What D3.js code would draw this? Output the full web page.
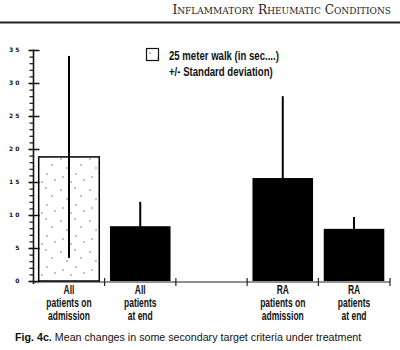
<!DOCTYPE html>
<html>
<head>
<meta charset="utf-8">
<script src="https://cdn.jsdelivr.net/npm/d3@7"></script>
<style>
  html, body { margin: 0; padding: 0; background: #fff; }
  svg { display: block; }
</style>
</head>
<body>
<svg id="chart" width="400" height="350"></svg>
<script>
// ---- data ----
const categories = ["allAdm", "allEnd", "gap", "raAdm", "raEnd"];
const categoryLabels = [
  ["All", "patients on", "admission"],
  ["All", "patients", "at end"],
  [],
  ["RA", "patients on", "admission"],
  ["RA", "patients", "at end"]
];
const means = [18.8, 8.3, null, 15.6, 7.9];
const sds   = [15.3, 3.7, null, 12.4, 1.8];
const fills = ["stipple", "black", null, "black", "black"];
const yTicks = [0, 5, 10, 15, 20, 25, 30, 35];
const yTickLabels = ["0", "5", "1 0", "1 5", "2 0", "2 5", "3 0", "3 5"];
const legendLines = ["25 meter walk (in sec....)", "+/- Standard deviation)"];
const headerText = "Inflammatory Rheumatic Conditions";
const captionBold = "Fig. 4c.";
const captionText = " Mean changes in some secondary target criteria under treatment";

const svg = d3.select("#chart");
const sans = "'Liberation Sans', Arial, sans-serif";

// stipple pattern
const defs = svg.append("defs");
const pat = defs.append("pattern").attr("id", "stipple").attr("patternUnits", "userSpaceOnUse")
  .attr("width", 29).attr("height", 31);
[[3,4],[17,2],[9,13],[23,10],[5,22],[18,19],[13,27],[26,25]].forEach(p =>
  pat.append("circle").attr("cx", p[0]).attr("cy", p[1]).attr("r", 0.7).attr("fill", "#555"));

// header
svg.append("text").attr("x", 391).attr("y", 13.5).attr("text-anchor", "end")
  .attr("font-family", "'DejaVu Serif', 'Liberation Serif', serif")
  .attr("font-size", 12.2).style("font-variant", "small-caps").attr("fill", "#222")
  .text(headerText);
svg.append("line").attr("x1", 0).attr("x2", 400).attr("y1", 22.5).attr("y2", 22.5)
  .attr("stroke", "#222").attr("stroke-width", 2);

// scales
const x = d3.scaleBand().domain(categories).range([33, 390]).paddingInner(0.15).paddingOuter(0.08);
const y = d3.scaleLinear().domain([0, 35]).range([281, 50]);

// y axis minor ticks
const yMinor = svg.append("g").attr("transform", "translate(33.5,0)")
  .call(d3.axisLeft(y).tickValues(d3.range(0, 36, 1)).tickSize(4).tickFormat(""));
yMinor.select(".domain").remove();
yMinor.selectAll("line").attr("stroke", "#111").attr("stroke-width", 1.2);

// y axis major
const yAxis = svg.append("g").attr("transform", "translate(33.5,0)")
  .call(d3.axisLeft(y).tickValues(yTicks).tickSize(0).tickFormat((d, i) => yTickLabels[i]));
yAxis.select(".domain").attr("stroke", "#111").attr("stroke-width", 1.6).attr("d", "M0,284V49.5");
yAxis.selectAll(".tick line").attr("x1", -5).attr("x2", 6).attr("stroke", "#111").attr("stroke-width", 1.5);
yAxis.selectAll(".tick text").attr("x", -14).attr("font-family", "'DejaVu Sans', sans-serif")
  .attr("font-weight", "bold").attr("font-size", 6).attr("fill", "#111");

// x axis
const xAxis = svg.append("g").attr("transform", "translate(0,282)");
xAxis.append("line").attr("x1", x.range()[0]).attr("x2", x.range()[1]).attr("stroke", "#222").attr("stroke-width", 1.2);
const boundaries = categories.map(c => x(c) - x.step() * x.paddingInner() / 2).slice(1).concat([x.range()[1]]);
xAxis.selectAll("line.tk").data(boundaries).join("line").attr("class", "tk")
  .attr("x1", d => d).attr("x2", d => d).attr("y1", -4).attr("y2", 4)
  .attr("stroke", "#222").attr("stroke-width", 1.2);

// bars
const idx = d3.range(categories.length).filter(i => means[i] != null);
svg.append("g").selectAll("rect").data(idx).join("rect")
  .attr("x", i => x(categories[i])).attr("width", x.bandwidth())
  .attr("y", i => y(means[i])).attr("height", i => y(0) - y(means[i]))
  .attr("fill", i => fills[i] === "stipple" ? "url(#stipple)" : "#000")
  .attr("stroke", "#000").attr("stroke-width", i => fills[i] === "stipple" ? 1.5 : 0);

// error bars
svg.append("g").selectAll("line").data(idx).join("line")
  .attr("x1", i => x(categories[i]) + x.bandwidth() / 2).attr("x2", i => x(categories[i]) + x.bandwidth() / 2)
  .attr("y1", i => y(means[i] - sds[i])).attr("y2", i => y(means[i] + sds[i]))
  .attr("stroke", "#000").attr("stroke-width", 2);

// category labels (condensed)
const lab = svg.append("g").attr("font-family", sans).attr("font-weight", "bold")
  .attr("font-size", 12.5).attr("fill", "#111").attr("text-anchor", "middle");
categoryLabels.forEach((lines, i) => {
  lines.forEach((t, j) => {
    lab.append("text")
      .attr("transform", `translate(${x(categories[i]) + x.bandwidth() / 2},${294 + j * 13}) scale(0.68,1)`)
      .text(t);
  });
});

// legend
svg.append("rect").attr("x", 146.5).attr("y", 48.5).attr("width", 12).attr("height", 12)
  .attr("fill", "url(#stipple)").attr("stroke", "#111").attr("stroke-width", 1.2);
const leg = svg.append("g").attr("font-family", sans).attr("font-weight", "bold")
  .attr("font-size", 12).attr("fill", "#111");
legendLines.forEach((t, j) => leg.append("text")
  .attr("transform", `translate(169,${60 + j * 16}) scale(0.8,1)`).text(t));

// caption
const cap = svg.append("text").attr("transform", "translate(15,341) scale(0.93,1)")
  .attr("font-family", sans).attr("font-size", 11.5).attr("fill", "#111");
cap.append("tspan").attr("font-weight", "bold").text(captionBold);
cap.append("tspan").text(captionText);
</script>
</body>
</html>
